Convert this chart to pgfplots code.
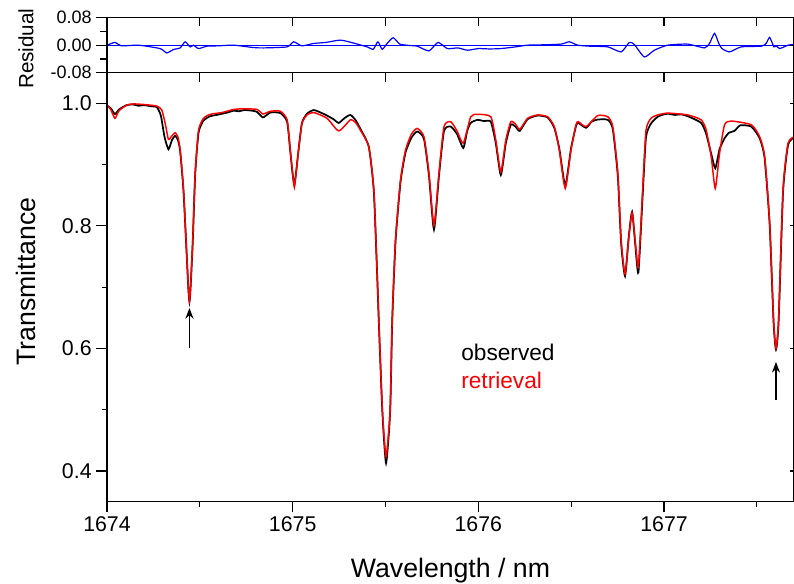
\documentclass[border=0pt]{standalone}
\usepackage{fontspec}
\setmainfont{Liberation Sans}
\usepackage{pgfplots}
\pgfplotsset{compat=1.18}
\usetikzlibrary{arrows.meta}
\pgfplotsset{
  base/.style={scale only axis, width=515.25pt, xmin=1674, xmax=1677.7,
    scaled x ticks=false, scaled y ticks=false,
    axis line style={line width=0.9pt}, tick style={line width=0.9pt, black}},
  mainy/.style={base, at={(0,0)}, anchor=south west, height=321.75pt, ymin=0.35, ymax=1.05},
  resy/.style={base, at={(0,321.75pt)}, anchor=south west, height=41.25pt, ymin=-0.08, ymax=0.08},
}
\begin{document}
\begin{tikzpicture}
% ---------------- main panel ----------------
\begin{axis}[mainy,
  xtick={1674,1675,1676,1677}, xticklabels={1674,1675,1676,1677},
  minor xtick={1674.5,1675.5,1676.5,1677.5},
  ytick={0.4,0.6,0.8,1.0}, yticklabels={0.4,0.6,0.8,1.0},
  minor ytick={0.5,0.7,0.9},
  xticklabel style={font=\fontsize{16}{19}\selectfont},
  yticklabel style={font=\fontsize{16}{19}\selectfont},
  xtick pos=left, ytick pos=left, tick align=outside,
  major tick length=8pt, minor tick length=4pt]
\addplot[black, line width=1.3pt, smooth, tension=0.35] coordinates {
(1674.000,0.996) (1674.020,0.992) (1674.043,0.9825) (1674.065,0.990) (1674.106,0.997)
(1674.142,0.998) (1674.170,0.996) (1674.200,0.997) (1674.240,0.995) (1674.268,0.994)
(1674.290,0.980) (1674.310,0.945) (1674.331,0.925) (1674.350,0.940) (1674.367,0.947)
(1674.382,0.940) (1674.394,0.922) (1674.412,0.857) (1674.430,0.748) (1674.438,0.698)
(1674.444,0.676) (1674.450,0.698) (1674.462,0.775) (1674.475,0.884) (1674.493,0.952)
(1674.520,0.972) (1674.556,0.979) (1674.590,0.981) (1674.620,0.983) (1674.650,0.985)
(1674.682,0.988) (1674.710,0.987) (1674.740,0.989) (1674.780,0.988) (1674.808,0.986)
(1674.840,0.977) (1674.880,0.985) (1674.934,0.984) (1674.970,0.970) (1674.987,0.922)
(1675.000,0.884) (1675.009,0.867) (1675.018,0.886) (1675.032,0.925) (1675.050,0.968)
(1675.077,0.983) (1675.113,0.989) (1675.150,0.985) (1675.185,0.980) (1675.220,0.974)
(1675.248,0.968) (1675.280,0.976) (1675.311,0.981) (1675.340,0.972) (1675.365,0.958)
(1675.410,0.929) (1675.437,0.857) (1675.455,0.720) (1675.464,0.643) (1675.483,0.497)
(1675.503,0.413) (1675.525,0.497) (1675.536,0.643) (1675.554,0.775) (1675.581,0.872)
(1675.608,0.920) (1675.640,0.944) (1675.671,0.954) (1675.707,0.942) (1675.734,0.882)
(1675.761,0.794) (1675.788,0.882) (1675.815,0.955) (1675.851,0.962) (1675.885,0.950)
(1675.919,0.927) (1675.940,0.955) (1675.959,0.968) (1675.995,0.973) (1676.030,0.971)
(1676.067,0.970) (1676.094,0.935) (1676.121,0.883) (1676.148,0.935) (1676.175,0.965)
(1676.200,0.962) (1676.223,0.955) (1676.265,0.974) (1676.319,0.980) (1676.373,0.977)
(1676.409,0.960) (1676.436,0.926) (1676.468,0.866) (1676.499,0.926) (1676.526,0.963)
(1676.538,0.968) (1676.580,0.960) (1676.610,0.970) (1676.643,0.9735) (1676.697,0.973)
(1676.724,0.958) (1676.751,0.882) (1676.769,0.772) (1676.790,0.718) (1676.810,0.782)
(1676.828,0.823) (1676.845,0.770) (1676.862,0.724) (1676.885,0.850) (1676.903,0.945)
(1676.930,0.967) (1676.966,0.978) (1677.000,0.982) (1677.020,0.983) (1677.060,0.981)
(1677.090,0.982) (1677.128,0.979) (1677.200,0.968) (1677.227,0.950) (1677.254,0.918)
(1677.276,0.894) (1677.299,0.925) (1677.326,0.943) (1677.350,0.952) (1677.380,0.955)
(1677.410,0.964) (1677.470,0.962) (1677.515,0.943) (1677.542,0.910) (1677.569,0.802)
(1677.590,0.643) (1677.603,0.598) (1677.617,0.643) (1677.641,0.855) (1677.668,0.932)
(1677.700,0.944)};
\addplot[red, line width=1.1pt, smooth, tension=0.35] coordinates {
(1674.000,0.997) (1674.020,0.990) (1674.043,0.9755) (1674.065,0.988) (1674.106,0.997)
(1674.142,0.999) (1674.200,0.998) (1674.268,0.9955) (1674.295,0.989) (1674.315,0.965)
(1674.331,0.941) (1674.350,0.947) (1674.367,0.952) (1674.382,0.945) (1674.394,0.924)
(1674.412,0.859) (1674.430,0.750) (1674.438,0.700) (1674.444,0.678) (1674.450,0.700)
(1674.462,0.777) (1674.475,0.886) (1674.493,0.956) (1674.520,0.9755) (1674.556,0.982)
(1674.620,0.985) (1674.682,0.990) (1674.740,0.991) (1674.808,0.990) (1674.840,0.9825)
(1674.880,0.987) (1674.934,0.987) (1674.970,0.973) (1674.987,0.924) (1675.000,0.885)
(1675.009,0.863) (1675.018,0.885) (1675.032,0.924) (1675.050,0.967) (1675.077,0.981)
(1675.113,0.985) (1675.185,0.9755) (1675.248,0.955) (1675.311,0.973) (1675.340,0.968)
(1675.365,0.956) (1675.410,0.929) (1675.437,0.859) (1675.455,0.723) (1675.464,0.646)
(1675.483,0.500) (1675.503,0.4235) (1675.525,0.500) (1675.536,0.646) (1675.554,0.777)
(1675.581,0.875) (1675.608,0.924) (1675.640,0.950) (1675.671,0.959) (1675.707,0.9455)
(1675.734,0.886) (1675.761,0.801) (1675.788,0.886) (1675.815,0.962) (1675.851,0.970)
(1675.885,0.955) (1675.919,0.935) (1675.959,0.978) (1675.995,0.982) (1676.067,0.978)
(1676.094,0.940) (1676.121,0.888) (1676.148,0.940) (1676.175,0.970) (1676.200,0.966)
(1676.223,0.9575) (1676.265,0.9755) (1676.319,0.981) (1676.373,0.978) (1676.409,0.962)
(1676.436,0.924) (1676.468,0.861) (1676.499,0.924) (1676.526,0.965) (1676.538,0.970)
(1676.580,0.962) (1676.643,0.980) (1676.697,0.978) (1676.724,0.962) (1676.751,0.886)
(1676.769,0.777) (1676.790,0.7215) (1676.810,0.780) (1676.828,0.8215) (1676.845,0.775)
(1676.862,0.733) (1676.885,0.859) (1676.903,0.956) (1676.930,0.9755) (1676.966,0.981)
(1677.020,0.984) (1677.128,0.981) (1677.200,0.973) (1677.227,0.9565) (1677.254,0.913)
(1677.276,0.861) (1677.299,0.918) (1677.326,0.965) (1677.362,0.971) (1677.470,0.965)
(1677.515,0.9455) (1677.542,0.913) (1677.569,0.804) (1677.590,0.646) (1677.603,0.600)
(1677.617,0.646) (1677.641,0.859) (1677.668,0.935) (1677.704,0.9455)};
\draw[-{Stealth[length=8pt,width=6pt]}, line width=1.2pt] (axis cs:1674.444,0.600) -- (axis cs:1674.444,0.666);
\draw[-{Stealth[length=8pt,width=6pt]}, line width=1.2pt] (axis cs:1677.603,0.516) -- (axis cs:1677.603,0.578);
\node[anchor=base west, font=\fontsize{17}{20}\selectfont, black] at (axis cs:1675.883,0.580) {observed};
\node[anchor=base west, font=\fontsize{17}{20}\selectfont, red] at (axis cs:1675.883,0.534) {retrieval};
\end{axis}
\begin{axis}[mainy, xtick={1674,1674.5,...,1677.5}, xticklabels={}, ytick=\empty,
  xtick pos=right, tick align=inside, major tick length=7pt]
\end{axis}
\begin{axis}[mainy, xtick=\empty, ytick={0.4,0.6,0.8,1.0}, yticklabels={},
  ytick pos=right, tick align=inside, major tick length=3pt]
\end{axis}
% ---------------- residual panel ----------------
\begin{axis}[resy, xtick=\empty,
  ytick={-0.08,0,0.08}, yticklabels={-0.08,0.00,0.08}, minor ytick={-0.04,0.04},
  yticklabel style={font=\fontsize{13.5}{16}\selectfont},
  ytick pos=left, tick align=outside, major tick length=8pt, minor tick length=5pt]
\addplot[blue, line width=0.5pt] coordinates {(1674,0) (1677.7,0)};
\addplot[blue, line width=0.9pt, smooth, tension=0.35] coordinates {
(1674.000,0.000) (1674.020,0.004) (1674.043,0.008) (1674.079,-0.002) (1674.170,0.000)
(1674.286,-0.010) (1674.322,-0.0226) (1674.358,-0.0127) (1674.394,-0.008) (1674.421,0.0098)
(1674.448,-0.005) (1674.466,0.000) (1674.493,-0.010) (1674.538,-0.003) (1674.600,-0.002)
(1674.682,0.000) (1674.790,-0.007) (1674.844,-0.008) (1674.970,-0.005) (1675.005,0.0098)
(1675.050,-0.002) (1675.113,0.005) (1675.180,0.008) (1675.257,0.0147) (1675.329,0.006)
(1675.401,-0.005) (1675.434,-0.012) (1675.459,0.0098) (1675.482,-0.012) (1675.509,0.005)
(1675.541,0.0216) (1675.572,0.005) (1675.581,0.002) (1675.630,-0.001) (1675.671,-0.003)
(1675.734,-0.0167) (1675.783,0.008) (1675.833,-0.010) (1675.890,-0.008) (1675.941,-0.0147)
(1676.000,-0.010) (1676.060,-0.011) (1676.121,-0.010) (1676.200,-0.005) (1676.265,0.000)
(1676.350,0.001) (1676.445,0.003) (1676.490,0.0098) (1676.535,0.000) (1676.600,-0.003)
(1676.697,-0.005) (1676.769,-0.0196) (1676.813,0.008) (1676.840,0.002) (1676.894,-0.0343)
(1676.948,-0.0147) (1677.020,0.000) (1677.128,0.003) (1677.218,-0.008) (1677.245,0.005)
(1677.272,0.0343) (1677.295,0.005) (1677.312,-0.010) (1677.353,-0.0196) (1677.416,-0.005)
(1677.524,-0.003) (1677.550,0.005) (1677.569,0.0226) (1677.592,-0.005) (1677.605,-0.002)
(1677.623,-0.010) (1677.668,0.000) (1677.700,0.002)};
\end{axis}
\begin{axis}[resy, xtick={1674,1674.5,...,1677.5}, xticklabels={}, ytick=\empty,
  xtick pos=right, tick align=inside, major tick length=6pt]
\end{axis}
\begin{axis}[resy, xtick=\empty, ytick={0}, yticklabels={},
  ytick pos=right, tick align=inside, major tick length=3pt]
\end{axis}
% ---------------- labels ----------------
\node[anchor=base, font=\fontsize{20}{24}\selectfont] at (257.6pt,-57pt) {Wavelength / nm};
\node[rotate=90, font=\fontsize{20}{24}\selectfont] at (-60.75pt,165pt) {Transmittance};
\node[rotate=90, font=\fontsize{15.5}{18}\selectfont] at (-60.75pt,339.75pt) {Residual};
\pgfresetboundingbox
\path[use as bounding box] (-80.25pt,-61.75pt) rectangle (515.25pt,376.25pt);
\end{tikzpicture}
\end{document}
